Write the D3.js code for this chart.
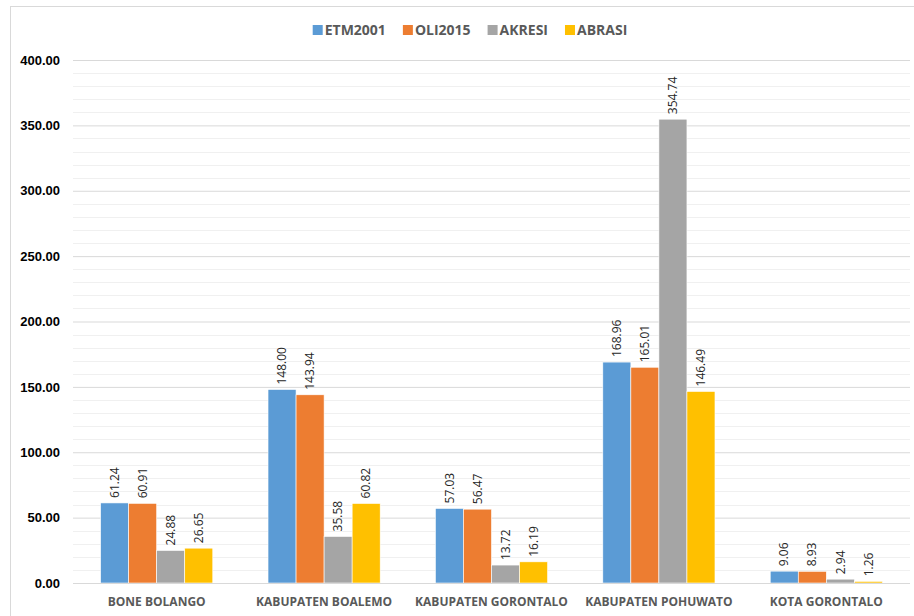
<!DOCTYPE html>
<html>
<head>
<meta charset="utf-8">
<script src="https://cdn.jsdelivr.net/npm/d3@7"></script>
<style>
  body { margin: 0; background: #fff; }
  svg { display: block; font-family: "Open Sans", "Noto Sans", sans-serif; }
</style>
</head>
<body>
<svg id="chart" width="914" height="616"></svg>
<script>
// chart data
var regions = ["BONE BOLANGO", "KABUPATEN BOALEMO", "KABUPATEN GORONTALO", "KABUPATEN POHUWATO", "KOTA GORONTALO"];
var seriesNames = ["ETM2001", "OLI2015", "AKRESI", "ABRASI"];
var etm2001 = [61.24, 148.00, 57.03, 168.96, 9.06];
var oli2015 = [60.91, 143.94, 56.47, 165.01, 8.93];
var akresi  = [24.88, 35.58, 13.72, 354.74, 2.94];
var abrasi  = [26.65, 60.82, 16.19, 146.49, 1.26];
var yTicks = [0, 50, 100, 150, 200, 250, 300, 350, 400];
var colors = ["#5B9BD5", "#ED7D31", "#A5A5A5", "#FFC000"];

var allSeries = [etm2001, oli2015, akresi, abrasi];
var rows = regions.map(function (r, i) {
    return { region: r, values: allSeries.map(function (s, j) { return { key: seriesNames[j], value: s[i] }; }) };
});

var svg = d3.select("#chart");
var plotL = 73, plotR = 910, plotT = 60, plotB = 583;

// outer frame
svg.append("rect")
    .attr("x", 10.5).attr("y", 6.5)
    .attr("width", 930).attr("height", 640)
    .attr("fill", "none").attr("stroke", "#d9d9d9");

var y = d3.scaleLinear().domain([0, 400]).range([plotB, plotT]);
var x0 = d3.scaleBand().domain(regions).range([plotL, plotR]).paddingInner(0.33).paddingOuter(0.165);
var x1 = d3.scaleBand().domain(seriesNames).range([0, x0.bandwidth()]);

// minor gridlines
svg.append("g").selectAll("line")
    .data(d3.range(10, 401, 10).filter(function (v) { return v % 50 !== 0; }))
    .enter().append("line")
    .attr("x1", plotL).attr("x2", plotR)
    .attr("y1", function (d) { return Math.round(y(d)) + 0.5; })
    .attr("y2", function (d) { return Math.round(y(d)) + 0.5; })
    .attr("stroke", "#f0f0f0");

// major gridlines + y labels
var yAxis = d3.axisLeft(y).tickValues(yTicks)
    .tickSize(-(plotR - plotL)).tickPadding(13)
    .tickFormat(d3.format(".2f"));
var ga = svg.append("g").attr("transform", "translate(" + plotL + ",0)").call(yAxis);
ga.select(".domain").remove();
ga.selectAll(".tick line").attr("stroke", "#d9d9d9");
ga.selectAll(".tick text")
    .attr("fill", "#000").style("font-size", "13px").style("font-weight", "bold");

// bars
var groups = svg.append("g").selectAll("g")
    .data(rows).enter().append("g")
    .attr("transform", function (d) { return "translate(" + x0(d.region) + ",0)"; });

groups.selectAll("rect")
    .data(function (d) { return d.values; })
    .enter().append("rect")
    .attr("x", function (d) { return x1(d.key); })
    .attr("y", function (d) { return y(d.value); })
    .attr("width", x1.bandwidth())
    .attr("height", function (d) { return y(0) - y(d.value); })
    .attr("fill", function (d, i) { return colors[i]; })
    .attr("stroke", "#fff").attr("stroke-width", 0.6);

// value labels, rotated
groups.selectAll("text")
    .data(function (d) { return d.values; })
    .enter().append("text")
    .attr("transform", function (d) {
        var cx = x1(d.key) + x1.bandwidth() / 2;
        return "translate(" + cx + "," + (y(d.value) - 5) + ") rotate(-90)";
    })
    .attr("dy", "0.35em")
    .attr("fill", "#262626")
    .style("font-size", "12px")
    .text(function (d) { return d.value.toFixed(2); });

// baseline
svg.append("line")
    .attr("x1", plotL).attr("x2", plotR)
    .attr("y1", plotB + 0.5).attr("y2", plotB + 0.5)
    .attr("stroke", "#d9d9d9");

// category labels
svg.append("g").selectAll("text")
    .data(regions).enter().append("text")
    .attr("x", function (d) { return x0(d) + x0.bandwidth() / 2; })
    .attr("y", 606)
    .attr("text-anchor", "middle")
    .attr("fill", "#595959")
    .style("font-size", "12px").style("font-weight", "bold")
    .text(function (d) { return d; });

// legend
var leg = svg.append("g");
var lx = 0;
seriesNames.forEach(function (name, i) {
    var item = leg.append("g").attr("transform", "translate(" + lx + ",0)");
    item.append("rect").attr("x", 0).attr("y", -10).attr("width", 10).attr("height", 10).attr("fill", colors[i]);
    var t = item.append("text").attr("x", 12).attr("y", 0)
        .attr("fill", "#595959")
        .style("font-size", "14px").style("font-weight", "bold")
        .text(name);
    lx += 12 + t.node().getComputedTextLength() + 17;
});
var legW = lx - 17;
leg.attr("transform", "translate(" + (470 - legW / 2) + ",35)");
</script>
</body>
</html>
